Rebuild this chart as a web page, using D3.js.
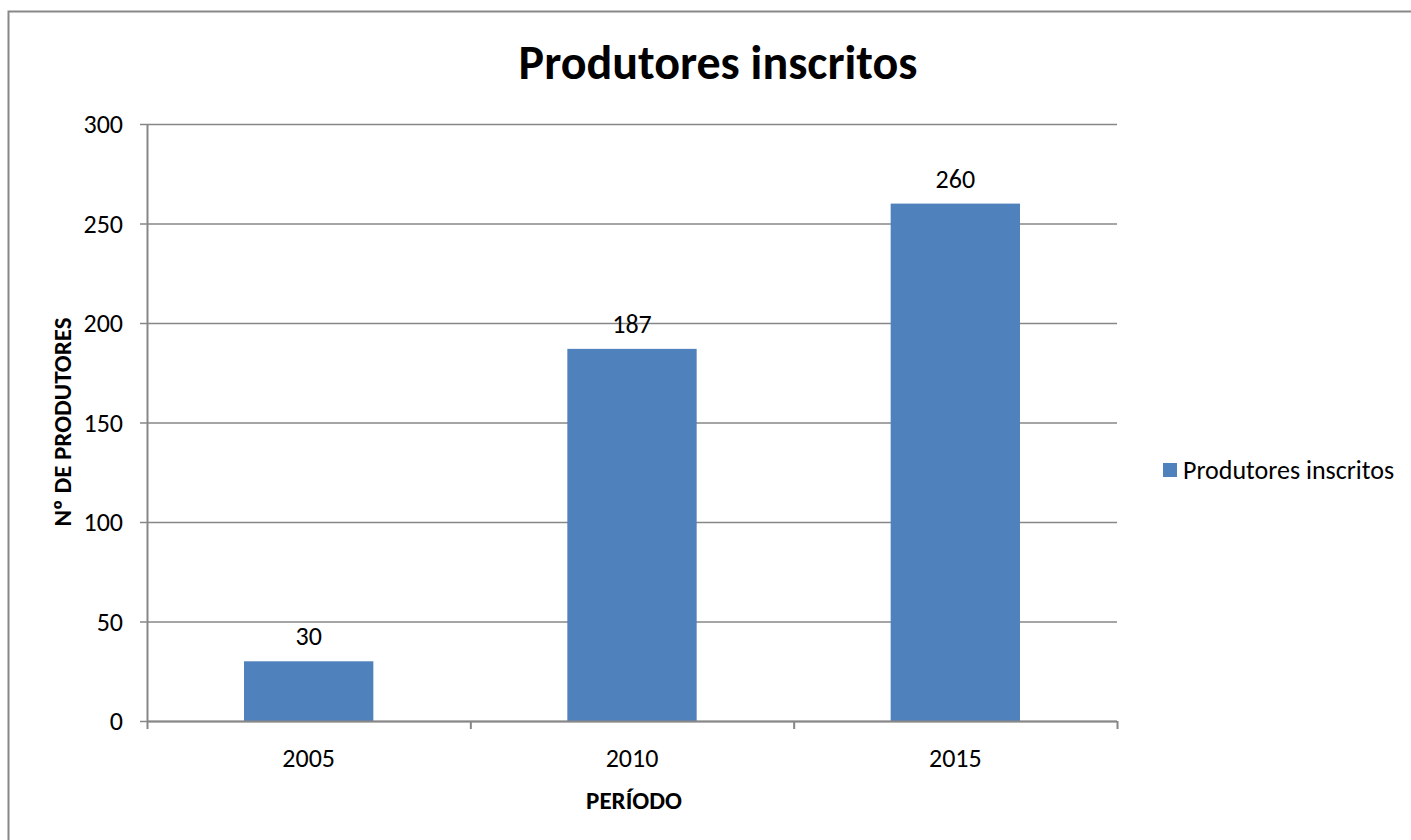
<!DOCTYPE html>
<html><head><meta charset="utf-8">
<script src="https://cdn.jsdelivr.net/npm/d3@7/dist/d3.min.js"></script>
<style>body{margin:0;background:#fff}svg{display:block}text{font-family:Carlito,Lato,"Open Sans",sans-serif}</style>
</head><body>
<svg id="c" width="1411" height="840"></svg>
<script>
const categories = ["2005","2010","2015"];
const values = [30,187,260];
const yTicks = [0,50,100,150,200,250,300];
const seriesName = "Produtores inscritos";

const svg = d3.select("#c");
const m = {l:147, r:1117, t:124, b:721};
svg.append("path").attr("d","M8.5,840V11.5H1411").attr("fill","none").attr("stroke","#888").attr("stroke-width",2);

const x = d3.scaleBand().domain(categories).range([m.l,m.r]).padding(0);
const y = d3.scaleLinear().domain([0,300]).range([m.b,m.t]);
const gray = "#878787";

svg.append("g").selectAll("line").data(yTicks).join("line")
  .attr("x1",m.l-7).attr("x2",m.r).attr("y1",d=>y(d)+0.5).attr("y2",d=>y(d)+0.5)
  .attr("stroke",gray).attr("stroke-width",1.5);
svg.append("line").attr("x1",m.l+0.5).attr("x2",m.l+0.5).attr("y1",m.t).attr("y2",m.b+1).attr("stroke",gray).attr("stroke-width",2);
svg.append("g").selectAll("text").data(yTicks).join("text")
  .attr("x",m.l-24).attr("y",d=>y(d)).attr("dy","0.35em").attr("text-anchor","end")
  .attr("font-size",26).attr("fill","#000").text(d=>d);
const xt = [m.l, ...categories.map(c=>x(c)+x.bandwidth())];
svg.append("g").selectAll("line").data(xt).join("line")
  .attr("x1",d=>d+0.5).attr("x2",d=>d+0.5).attr("y1",m.b).attr("y2",m.b+8).attr("stroke",gray).attr("stroke-width",2);

const bw = x.bandwidth()*0.4;
svg.append("g").selectAll("rect").data(values).join("rect")
  .attr("x",(d,i)=>x(categories[i])+(x.bandwidth()-bw)/2).attr("width",bw)
  .attr("y",d=>y(d)).attr("height",d=>m.b-y(d)).attr("fill","#4f81bd");
svg.append("line").attr("x1",m.l).attr("x2",m.r).attr("y1",m.b+0.5).attr("y2",m.b+0.5).attr("stroke",gray).attr("stroke-width",2);

svg.append("g").selectAll("text").data(values).join("text")
  .attr("x",(d,i)=>x(categories[i])+x.bandwidth()/2).attr("y",d=>y(d)-25).attr("dy","0.35em")
  .attr("text-anchor","middle").attr("font-size",26).text(d=>d);
svg.append("g").selectAll("text").data(categories).join("text")
  .attr("x",d=>x(d)+x.bandwidth()/2).attr("y",758).attr("dy","0.35em")
  .attr("text-anchor","middle").attr("font-size",26).text(d=>d);

svg.append("text").attr("x",718).attr("y",62).attr("dy","0.35em").attr("text-anchor","middle")
  .attr("font-size",48).attr("font-weight","bold").text("Produtores inscritos");
svg.append("text").attr("x",634).attr("y",800).attr("dy","0.35em").attr("text-anchor","middle")
  .attr("font-size",25).attr("font-weight","bold").text("PERÍODO");
svg.append("text").attr("transform","translate(62,422) rotate(-90)").attr("dy","0.35em").attr("text-anchor","middle")
  .attr("font-size",25).attr("font-weight","bold").text("Nº DE PRODUTORES");

svg.append("rect").attr("x",1163).attr("y",463).attr("width",14).attr("height",14).attr("fill","#4f81bd");
svg.append("text").attr("x",1183).attr("y",470).attr("dy","0.35em").attr("font-size",26).text(seriesName);
</script>
</body></html>
